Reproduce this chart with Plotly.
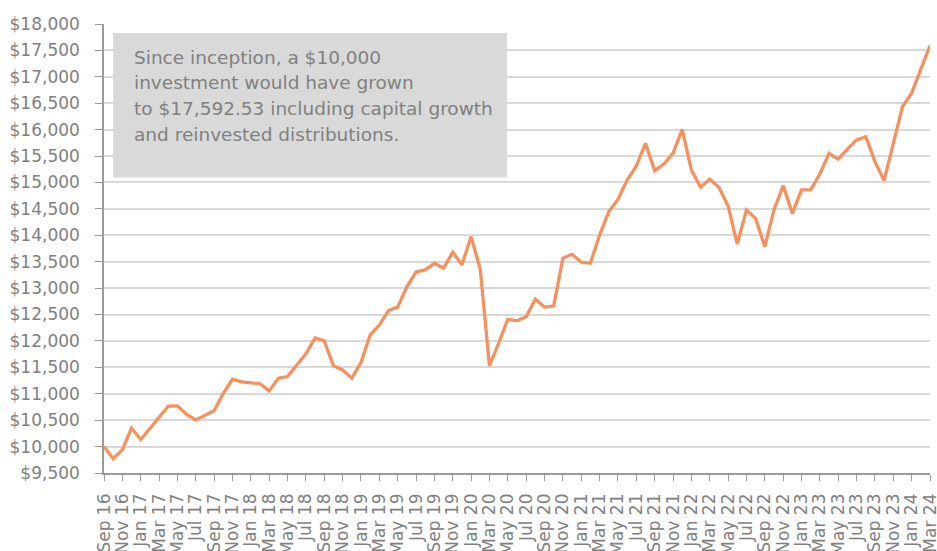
import pandas as pd
import plotly.graph_objects as go

# Monthly categories Sep 2016 .. Mar 2024
months = [d.strftime("%b %y") for d in pd.date_range("2016-09-01", "2024-03-01", freq="MS")]

values = [
    10000, 9770, 9940, 10350, 10130, 10340, 10570, 10765, 10770, 10610,
    10505, 10600, 10680, 11010, 11275, 11225, 11210, 11190, 11055, 11295,
    11325, 11545, 11755, 12055, 12000, 11530, 11450, 11295, 11590, 12115,
    12300, 12575, 12640, 13025, 13305, 13345, 13470, 13380, 13680, 13440,
    13975, 13355, 11530, 11955, 12410, 12380, 12460, 12790, 12640, 12660,
    13565, 13640, 13490, 13470, 14005, 14445, 14680, 15045, 15310, 15740,
    15220, 15350, 15550, 16005, 15235, 14910, 15060, 14910, 14555, 13835,
    14480, 14320, 13785, 14480, 14940, 14415, 14860, 14860, 15160, 15550,
    15440, 15630, 15805, 15865, 15395, 15035, 15710, 16435, 16690, 17160,
    17592.53,
]

tick_labels = months[::2]
y_ticks = list(range(9500, 18001, 500))
y_tick_text = ["${:,}".format(v) for v in y_ticks]

note_lines = [
    "Since inception, a $10,000",
    "investment would have grown",
    "to $17,592.53 including capital growth",
    "and reinvested distributions.",
]

FONT = "DejaVu Sans"
GREY = "#808080"

fig = go.Figure()
fig.add_trace(go.Scatter(
    x=months, y=values, mode="lines",
    line=dict(color="#F5915E", width=3.3),
    hoverinfo="skip", showlegend=False,
))

line_top, line_step = 0.9265, 0.0579
annotations = [
    dict(xref="paper", yref="paper", x=0.034, y=line_top - k * line_step,
         xanchor="left", yanchor="middle", align="left", showarrow=False,
         text=t, font=dict(family=FONT, size=18.5, color=GREY))
    for k, t in enumerate(note_lines)
]

fig.update_layout(
    template="none",
    width=937, height=551,
    margin=dict(l=104, r=7, t=24, b=78, autoexpand=False),
    paper_bgcolor="white", plot_bgcolor="white",
    font=dict(family=FONT, size=17, color=GREY),
    xaxis=dict(
        type="category", range=[0, len(months) - 1], automargin=False,
        tickmode="array", tickvals=tick_labels, ticktext=tick_labels,
        tickangle=-90, ticks="outside", ticklen=6, tickcolor="#999999", tickwidth=1.2,
        ticklabelstandoff=6,
        showline=True, linecolor="#999999", linewidth=1.5,
        showgrid=False, zeroline=False,
        tickfont=dict(family=FONT, size=17, color=GREY),
    ),
    yaxis=dict(
        range=[9500, 18000], automargin=False,
        tickmode="array", tickvals=y_ticks, ticktext=y_tick_text,
        ticks="outside", ticklen=7, tickcolor="#999999", tickwidth=1.2,
        ticklabelstandoff=12,
        showline=True, linecolor="#999999", linewidth=1.5,
        showgrid=True, gridcolor="#D9D9D9", gridwidth=1.5, zeroline=False,
        tickfont=dict(family=FONT, size=17, color=GREY),
    ),
    shapes=[dict(
        type="rect", xref="paper", yref="paper",
        x0=0.011, x1=0.488, y0=0.658, y1=0.98,
        fillcolor="#D9D9D9", line=dict(width=0), layer="above",
    )],
    annotations=annotations,
)

fig.write_html(
    "out.html",
    config={"displayModeBar": False},
    post_script="document.body.style.margin='0';document.body.style.overflow='hidden';",
)
